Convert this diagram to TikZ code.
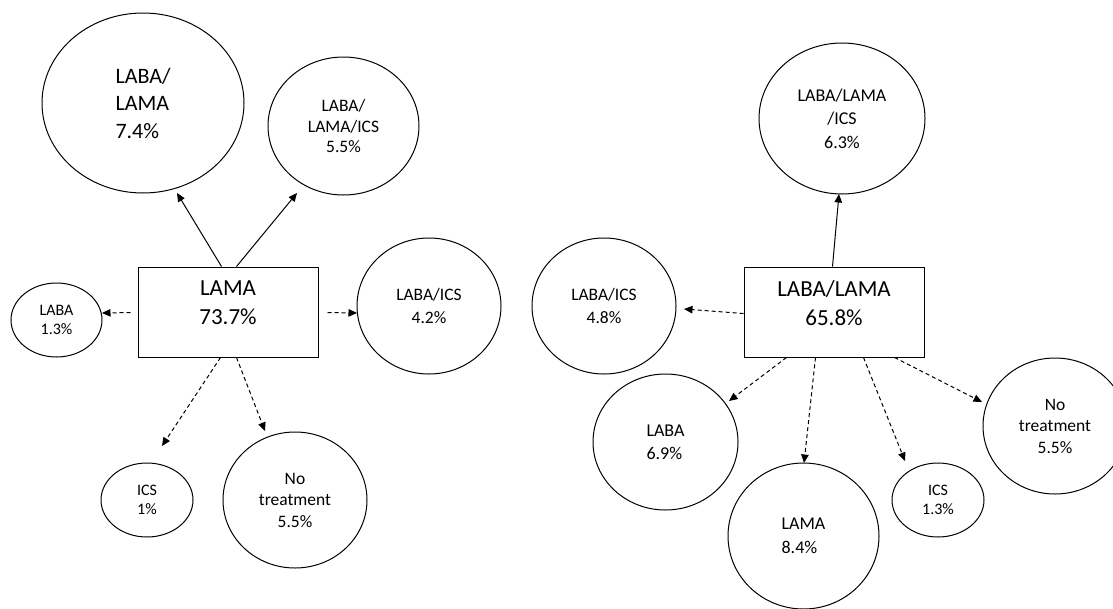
\documentclass[tikz,border=0pt]{standalone}
\usepackage{fontspec}
\setmainfont{Carlito}
\usetikzlibrary{shapes.geometric,arrows.meta,calc}
\tikzset{
  ell/.style={draw, ellipse, inner sep=0pt, line width=1pt, align=center},
  boxnode/.style={draw, rectangle, inner sep=0pt, line width=1pt, align=center,
    minimum width=180pt, minimum height=90pt, font=\fontsize{23}{29}\selectfont},
  solidarrow/.style={-{Triangle[length=8.5pt,width=7.5pt]}, line width=1pt},
  dasharrow/.style={solidarrow, dash pattern=on 4pt off 3pt},
  fbig/.style={font=\fontsize{22}{27.5}\selectfont},
  fmid/.style={font=\fontsize{17.5}{#1}\selectfont},
  fsmall/.style={font=\fontsize{16}{19.5}\selectfont}
}
\begin{document}
\begin{tikzpicture}[x=1pt,y=-1pt]
\useasboundingbox (0,0) rectangle (1113,608);
\clip (0,0) rectangle (1113,608);
% ---------- left cluster ----------
\node[boxnode] (lamabox) at (228,312) {LAMA\\73.7\%\rule[-18pt]{0pt}{0pt}};
\node[ell, fbig, align=left, minimum width=202pt, minimum height=180pt] (e1) at (143,103) {LABA/\\LAMA\\7.4\%};
\node[ell, fmid=20.5, minimum width=151pt, minimum height=138pt] (e2) at (343.5,126) {LABA/\\LAMA/ICS\\5.5\%};
\node[ell, fsmall, minimum width=91pt, minimum height=74pt] (e3) at (56.5,320) {LABA\\1.3\%};
\node[ell, fmid=23, minimum width=144pt, minimum height=136pt] (e4) at (429,306) {LABA/ICS\\4.2\%};
\node[ell, fsmall, minimum width=92pt, minimum height=74pt] (e5) at (147,500) {ICS\\1\%};
\node[ell, fmid=21.5, minimum width=144pt, minimum height=136pt] (e6) at (295,500) {No\\treatment\\5.5\%};

\draw[solidarrow] ($(lamabox.north west)+(84,0)$) -- ($(e1.center)+(34,90)$);
\draw[solidarrow] ($(lamabox.north west)+(99,0)$) -- ($(e2.center)+(-46.5,67)$);
\draw[dasharrow] ($(lamabox.north west)+(-7,46)$) -- ($(e3.center)+(45.5,-7)$);
\draw[dasharrow] ($(lamabox.north west)+(190,46)$) -- ($(e4.center)+(-72,7)$);
\draw[dasharrow] ($(lamabox.south west)+(83,0)$) -- ($(e5.center)+(15,-54)$);
\draw[dasharrow] ($(lamabox.south west)+(99,0)$) -- ($(e6.center)+(-30,-69)$);

% ---------- right cluster ----------
\node[boxnode] (lablamabox) at (834,312) {LABA/LAMA\\65.8\%\rule[-18pt]{0pt}{0pt}};
\node[ell, font=\fontsize{18}{23.5}\selectfont, minimum width=166pt, minimum height=151pt] (f1) at (842,118.5) {LABA/LAMA\\/ICS\\6.3\%};
\node[ell, fmid=23, minimum width=144pt, minimum height=136pt] (f2) at (604,306) {LABA/ICS\\4.8\%};
\node[ell, font=\fontsize{18}{23}\selectfont, align=left, minimum width=145pt, minimum height=136pt] (f3) at (665.5,442) {LABA\\6.9\%};
\node[ell, font=\fontsize{18}{24}\selectfont, align=left, minimum width=151pt, minimum height=146pt] (f4) at (803.5,536) {LAMA\\8.4\%};
\node[ell, fsmall, minimum width=92pt, minimum height=74pt] (f5) at (938,500) {ICS\\1.3\%};
\node[ell, fmid=21.5, minimum width=144pt, minimum height=136pt] (f6) at (1055,426) {No\\treatment\\5.5\%};

\draw[solidarrow] ($(lablamabox.north west)+(89,0)$) -- ($(f1.center)+(-3,75.5)$);
\draw[dasharrow] ($(lablamabox.north west)+(0,47)$) -- ($(f2.center)+(80,3)$);
\draw[dasharrow] ($(lablamabox.south west)+(43,0)$) -- ($(f3.center)+(63.5,-41)$);
\draw[dasharrow] ($(lablamabox.south west)+(72,0)$) -- ($(f4.center)+(0.5,-73)$);
\draw[dasharrow] ($(lablamabox.south west)+(120,0)$) -- ($(f5.center)+(-33,-39)$);
\draw[dasharrow] ($(lablamabox.south west)+(151,0)$) -- ($(f6.center)+(-73,-24)$);
\end{tikzpicture}
\end{document}
